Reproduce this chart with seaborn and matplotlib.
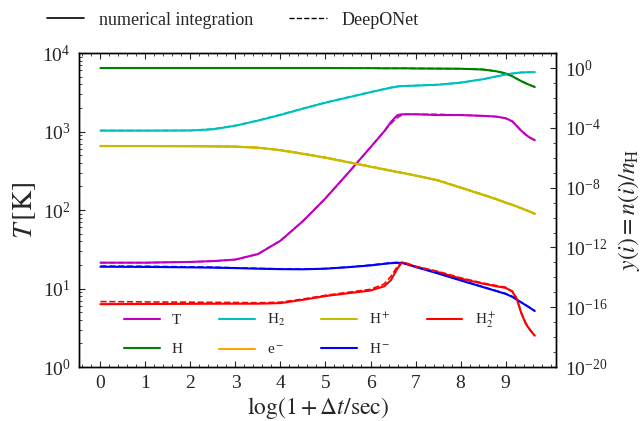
import numpy as np
import pandas as pd
import matplotlib
matplotlib.use("Agg")
import matplotlib.pyplot as plt
import seaborn as sns
from matplotlib.ticker import FixedLocator, MultipleLocator, NullFormatter, LogLocator
from matplotlib.lines import Line2D

# ---------------- data ----------------
x = [0, 1, 2, 2.5, 3, 3.5, 4, 4.5, 5, 5.5, 6, 6.3, 6.45, 6.6, 6.7, 6.8, 7, 7.5,
     8, 8.5, 8.8, 9, 9.15, 9.25, 9.35, 9.45, 9.55, 9.65]

# log10 of temperature [K] (left axis)
logT_num = [1.33, 1.33, 1.34, 1.35, 1.37, 1.44, 1.61, 1.86, 2.15, 2.47, 2.80, 3.00, 3.12, 3.21, 3.22, 3.22,
            3.22, 3.21, 3.21, 3.20, 3.19, 3.17, 3.13, 3.07, 3.01, 2.96, 2.92, 2.89]
logT_deep = [1.33, 1.33, 1.34, 1.35, 1.37, 1.44, 1.61, 1.86, 2.15, 2.47, 2.80, 3.00, 3.10, 3.18, 3.21, 3.22,
             3.22, 3.22, 3.21, 3.20, 3.19, 3.17, 3.13, 3.07, 3.01, 2.96, 2.92, 2.89]

# log10 of abundances y(i) (right axis)
logH_num = [0.0, 0.0, 0.0, 0.0, 0.0, 0.0, 0.0, 0.0, 0.0, -0.01, -0.01, -0.02, -0.02, -0.02, -0.02, -0.02,
            -0.03, -0.04, -0.05, -0.10, -0.22, -0.36, -0.55, -0.72, -0.88, -1.02, -1.15, -1.27]
logH_deep = [0.0, 0.0, 0.0, 0.0, 0.0, 0.0, 0.0, 0.0, 0.0, -0.01, -0.01, -0.02, -0.02, -0.02, -0.02, -0.02,
             -0.03, -0.04, -0.05, -0.10, -0.22, -0.36, -0.55, -0.72, -0.88, -1.02, -1.15, -1.27]

logH2_num = [-4.19, -4.19, -4.18, -4.10, -3.86, -3.52, -3.14, -2.72, -2.32, -1.97, -1.62, -1.42, -1.32, -1.24,
             -1.21, -1.20, -1.18, -1.12, -0.98, -0.75, -0.56, -0.44, -0.37, -0.33, -0.30, -0.29, -0.28, -0.28]
logH2_deep = [-4.17, -4.18, -4.17, -4.08, -3.84, -3.50, -3.11, -2.70, -2.30, -1.95, -1.60, -1.40, -1.30, -1.23,
              -1.20, -1.19, -1.17, -1.11, -0.98, -0.75, -0.56, -0.44, -0.37, -0.33, -0.30, -0.29, -0.28, -0.28]

logHp_num = [-5.22, -5.22, -5.23, -5.24, -5.26, -5.33, -5.50, -5.74, -6.00, -6.30, -6.60, -6.78, -6.87, -6.96,
             -7.01, -7.07, -7.19, -7.52, -8.00, -8.48, -8.78, -9.00, -9.15, -9.26, -9.38, -9.50, -9.62, -9.75]
logHp_deep = [-5.20, -5.21, -5.22, -5.23, -5.25, -5.32, -5.48, -5.72, -5.98, -6.28, -6.58, -6.76, -6.85, -6.94,
              -7.00, -7.06, -7.18, -7.50, -7.98, -8.46, -8.76, -8.99, -9.14, -9.25, -9.37, -9.49, -9.61, -9.74]

loge_num = list(logHp_num)
loge_deep = list(logHp_deep)

logHm_num = [-13.29, -13.30, -13.33, -13.35, -13.38, -13.42, -13.45, -13.46, -13.42, -13.32, -13.20, -13.10,
             -13.05, -13.03, -13.03, -13.12, -13.30, -13.74, -14.20, -14.65, -14.92, -15.10, -15.30, -15.50,
             -15.68, -15.86, -16.05, -16.25]
logHm_deep = [-13.25, -13.26, -13.30, -13.32, -13.36, -13.40, -13.43, -13.45, -13.41, -13.31, -13.18, -13.08,
              -13.02, -13.00, -13.02, -13.10, -13.28, -13.72, -14.18, -14.63, -14.90, -15.08, -15.28, -15.48,
              -15.66, -15.85, -16.04, -16.24]

logH2p_num = [-15.79, -15.78, -15.77, -15.76, -15.76, -15.76, -15.72, -15.50, -15.25, -15.06, -14.88, -14.60,
              -14.20, -13.40, -13.00, -13.08, -13.30, -13.65, -14.08, -14.42, -14.60, -14.70, -14.95, -15.45,
              -16.40, -17.10, -17.55, -17.90]
logH2p_deep = [-15.62, -15.64, -15.66, -15.67, -15.68, -15.70, -15.66, -15.45, -15.20, -15.00, -14.80, -14.45,
               -13.95, -13.25, -13.02, -13.05, -13.25, -13.60, -14.03, -14.38, -14.55, -14.66, -14.92, -15.40,
               -16.35, -17.05, -17.52, -17.88]

species_labels = ["H", r"H$_2$", r"e$^-$", r"H$^+$", r"H$^-$", r"H$_2^+$"]
species_num = [logH_num, logH2_num, loge_num, logHp_num, logHm_num, logH2p_num]
species_deep = [logH_deep, logH2_deep, loge_deep, logHp_deep, logHm_deep, logH2p_deep]
species_colors = ["g", "c", "orange", "y", "b", "r"]

# ---------------- style ----------------
sns.set_style("ticks")
plt.rcParams["font.family"] = ["Liberation Serif", "DejaVu Serif"]
plt.rcParams["mathtext.fontset"] = "stix"

fig = plt.figure(figsize=(6.41, 4.21), dpi=100)
ax1 = fig.add_axes([0.123, 0.128, 0.745, 0.746])
ax2 = ax1.twinx()

LW = 1.5
xs = np.array(x)

# Temperature on left axis
sns.lineplot(x=xs, y=10 ** np.array(logT_num), ax=ax1, color="m", lw=LW,
             estimator=None, sort=False)
sns.lineplot(x=xs, y=10 ** np.array(logT_deep), ax=ax1, color="m", lw=1.2,
             linestyle="--", estimator=None, sort=False)

# species on right axis
for vals, c in zip(species_num, species_colors):
    sns.lineplot(x=xs, y=10 ** np.array(vals), ax=ax2, color=c, lw=LW,
                 estimator=None, sort=False)
for vals, c in zip(species_deep, species_colors):
    sns.lineplot(x=xs, y=10 ** np.array(vals), ax=ax2, color=c, lw=1.2,
                 linestyle="--", estimator=None, sort=False)

# ---------------- axes ----------------
ax1.set_yscale("log")
ax1.set_ylim(1, 1e4)
ax1.yaxis.set_major_locator(FixedLocator([1, 10, 100, 1000, 10000]))
ax1.yaxis.set_minor_locator(LogLocator(base=10, subs=np.arange(2, 10), numticks=20))
ax1.yaxis.set_minor_formatter(NullFormatter())

ax2.set_yscale("log")
ax2.set_ylim(1e-20, 1e1)
ax2.yaxis.set_major_locator(FixedLocator([10.0 ** k for k in range(-20, 1, 4)]))
ax2.yaxis.set_minor_locator(FixedLocator([10.0 ** k for k in range(-20, 2)]))
ax2.yaxis.set_minor_formatter(NullFormatter())

ax1.set_xlim(-0.48, 10.13)
ax1.xaxis.set_major_locator(FixedLocator(list(range(0, 10))))
ax1.xaxis.set_minor_locator(MultipleLocator(0.2))

ax1.tick_params(which="both", direction="in", top=True, labelsize=14, pad=6)
ax1.tick_params(which="major", length=4, width=0.8)
ax1.tick_params(which="minor", length=2, width=0.6)
ax2.tick_params(which="both", direction="in", labelsize=14, pad=6)
ax2.tick_params(which="major", length=4, width=0.8)
ax2.tick_params(which="minor", length=2, width=0.6)

for a in (ax1, ax2):
    for s in a.spines.values():
        s.set_linewidth(1.0)
        s.set_color("black")

ax1.set_xlabel(r"$\log(1+\Delta t/\mathrm{sec})$", fontsize=17, labelpad=2)
ax1.set_ylabel(r"$T\,[\mathrm{K}]$", fontsize=20, labelpad=3)
ax2.set_ylabel(r"$y(i)=n(i)/n_\mathrm{H}$", fontsize=17, labelpad=6)

# ---------------- legends ----------------
top_handles = [Line2D([], [], color="black", lw=1.2, ls="-"),
               Line2D([], [], color="black", lw=1.0, ls="--")]
fig.legend(top_handles, ["numerical integration", "DeepONet"], loc="center",
           bbox_to_anchor=(0.363, 0.952), ncol=2, frameon=False, fontsize=13,
           handlelength=2.1, handletextpad=0.8, columnspacing=2.0)

labels_all = ["T"] + species_labels
colors_all = ["m"] + species_colors
handles = [Line2D([], [], color=c, lw=LW) for c in colors_all]
ax2.legend(handles, labels_all, ncol=4, loc="lower left",
           bbox_to_anchor=(0.065, -0.012), frameon=False, fontsize=11,
           handlelength=2.35, handletextpad=0.8, columnspacing=2.35,
           labelspacing=1.0)

fig.savefig("out.png", dpi=100)
